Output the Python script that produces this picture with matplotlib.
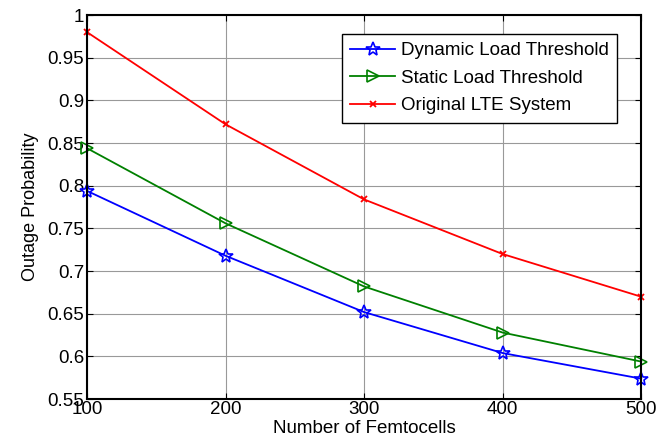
import matplotlib
matplotlib.use("Agg")
import matplotlib.pyplot as plt

plt.rcParams["font.family"] = ["Liberation Sans", "DejaVu Sans"]

# Data
femtocells = [100, 200, 300, 400, 500]
dynamic_load = [0.794, 0.718, 0.652, 0.604, 0.574]
static_load = [0.844, 0.756, 0.682, 0.628, 0.594]
original_lte = [0.980, 0.872, 0.784, 0.720, 0.670]
y_ticks = [0.55, 0.6, 0.65, 0.7, 0.75, 0.8, 0.85, 0.9, 0.95, 1]
y_tick_labels = ["0.55", "0.6", "0.65", "0.7", "0.75", "0.8", "0.85", "0.9", "0.95", "1"]

fig = plt.figure(figsize=(6.59, 4.43), dpi=100)
ax = fig.add_axes([0.132, 0.099, 0.841, 0.867])

ax.plot(femtocells, dynamic_load, color="blue", marker="*", markersize=10,
        markerfacecolor="none", markeredgewidth=1.2, linewidth=1.3,
        label="Dynamic Load Threshold", clip_on=False)
ax.plot(femtocells, static_load, color="green", marker=">", markersize=8,
        markerfacecolor="none", markeredgewidth=1.2, linewidth=1.3,
        label="Static Load Threshold", clip_on=False)
ax.plot(femtocells, original_lte, color="red", marker="x", markersize=5,
        markeredgewidth=1.3, linewidth=1.3,
        label="Original LTE System", clip_on=False)

ax.set_xlim(100, 500)
ax.set_ylim(0.55, 1)
ax.set_xticks(femtocells)
ax.set_yticks(y_ticks)
ax.set_yticklabels(y_tick_labels)
ax.tick_params(direction="in", top=True, right=True, labelsize=13.5, length=4)
ax.tick_params(axis="x", pad=1)
ax.tick_params(axis="y", pad=2)
ax.grid(True, color="#999999", linewidth=0.8)
for s in ax.spines.values():
    s.set_linewidth(1.5)

ax.set_xlabel("Number of Femtocells", fontsize=13.5, labelpad=2)
ax.set_ylabel("Outage Probability", fontsize=13, labelpad=6)

leg = ax.legend(loc="upper right", bbox_to_anchor=(0.957, 0.951), fontsize=13.5,
                fancybox=False, framealpha=1, edgecolor="black",
                handlelength=2.4, borderpad=0.45, labelspacing=0.55,
                handletextpad=0.3, borderaxespad=0)
leg.get_frame().set_linewidth(1.0)

fig.savefig("out.png", dpi=100)
